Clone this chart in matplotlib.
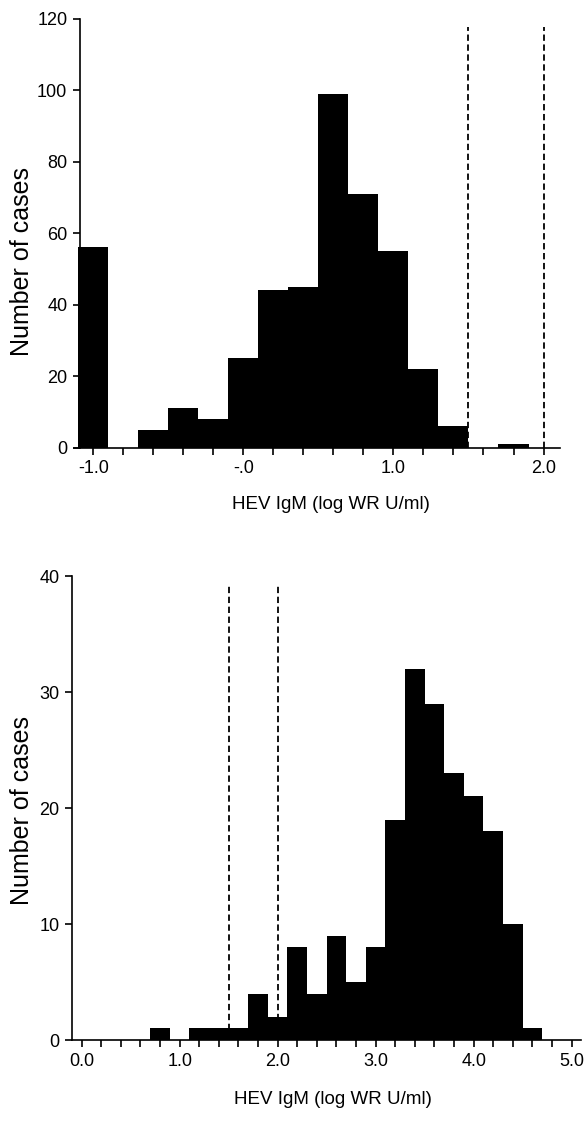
import numpy as np
import matplotlib
matplotlib.use("Agg")
import matplotlib.pyplot as plt

plt.rcParams["font.family"] = ["Liberation Sans", "DejaVu Sans"]

# Top panel: histogram of HEV IgM in one group (bin centres, 0.2 wide)
top_centres = np.round(np.arange(-1.0, 1.81, 0.2), 1)
top_counts = [56, 0, 5, 11, 8, 25, 44, 45, 99, 71, 55, 22, 6, 0, 1]
top_xticks = np.round(np.arange(-1.0, 2.01, 0.2), 1)
top_xlabels = ["-1.0", "", "", "", "", "-.0", "", "", "", "", "1.0",
               "", "", "", "", "2.0"]
top_yticks = [0, 20, 40, 60, 80, 100, 120]

# Bottom panel
bot_centres = np.round(np.arange(0.8, 4.61, 0.2), 1)
bot_counts = [1, 0, 1, 1, 1, 4, 2, 8, 4, 9, 5, 8, 19, 32, 29, 23, 21, 18, 10, 1]
bot_xticks = np.round(np.arange(0.0, 5.01, 0.2), 1)
bot_xlabels = [f"{v:.1f}" if abs(v - round(v)) < 1e-6 else "" for v in bot_xticks]
bot_yticks = [0, 10, 20, 30, 40]

# cut-off lines (log WR U/ml)
cutoffs = [1.5, 2.0]
bin_width = 0.2

fig = plt.figure(figsize=(5.85, 11.35), dpi=100)
ax1 = fig.add_axes([0.1262, 0.6056, 0.8311, 0.378])
ax2 = fig.add_axes([0.1229, 0.0837, 0.8711, 0.4088])


def draw_panel(ax, centres, counts, xlim, left_at, ylim, xticks, xlabels, yticks):
    ax.bar(centres, counts, width=bin_width, color="black",
           edgecolor="none", align="center", zorder=2)
    ax.set_xlim(*xlim)
    ax.set_ylim(*ylim)
    for s in ["top", "right"]:
        ax.spines[s].set_visible(False)
    ax.spines["left"].set_position(("data", left_at))
    ax.spines["left"].set_linewidth(1.2)
    ax.spines["bottom"].set_linewidth(1.2)
    ax.set_xticks(xticks)
    ax.set_xticklabels(xlabels, fontsize=13)
    ax.set_yticks(yticks)
    ax.set_yticklabels([str(v) for v in yticks], fontsize=13)
    ax.tick_params(axis="both", direction="out", length=5, width=1.2, pad=4)
    for c in cutoffs:
        ax.plot([c, c], [0, ylim[1] * 0.98], color="black", lw=1.3,
                linestyle=(0, (3.5, 2)), zorder=3)


draw_panel(ax1, top_centres, top_counts, (-1.13, 2.11), -1.09, (0, 120),
           top_xticks, top_xlabels, top_yticks)
ax1.set_xlabel("HEV IgM (log WR U/ml)", fontsize=13.5, va="center")
ax1.xaxis.set_label_coords(0.529, -0.1336)
ax1.set_ylabel("Number of cases", fontsize=18, va="center")
ax1.yaxis.set_label_coords(-0.1065, 0.435)

draw_panel(ax2, bot_centres, bot_counts, (-0.1, 5.1), -0.1, (0, 40),
           bot_xticks, bot_xlabels, bot_yticks)
ax2.set_xlabel("HEV IgM (log WR U/ml)", fontsize=13.5, va="center")
ax2.xaxis.set_label_coords(0.512, -0.129)
ax2.set_ylabel("Number of cases", fontsize=18, va="center")
ax2.yaxis.set_label_coords(-0.098, 0.494)

fig.savefig("out.png", dpi=100)
plt.close(fig)
